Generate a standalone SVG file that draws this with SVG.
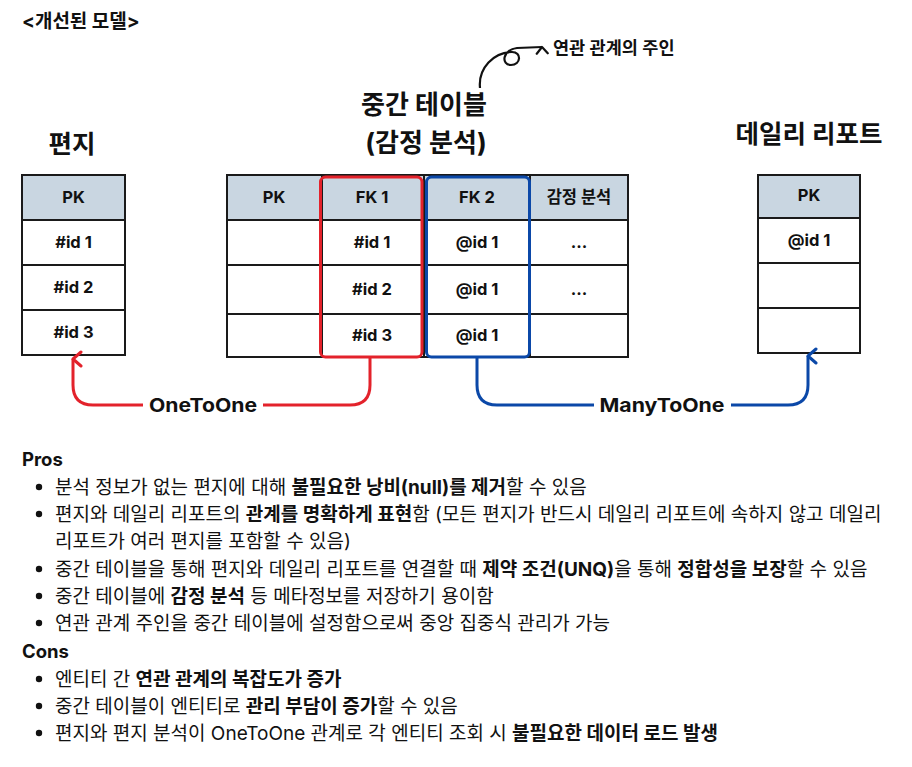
<svg xmlns="http://www.w3.org/2000/svg" width="912" height="767" viewBox="0 0 912 767">
<style>
text{font-family:Inter,"Noto Sans CJK KR",sans-serif;fill:#111}
.t{font-weight:700}
.cell{font-size:16.5px;font-weight:700;text-anchor:middle}
.hd{fill:#c9d6e1;stroke:#1a1a1a;stroke-width:2}
.rw{fill:#fff;stroke:#1a1a1a;stroke-width:2}
.body{font-size:19px}
.b{font-weight:700}
.lbl{font-size:19px;font-weight:700;text-anchor:middle}
</style>
<defs>
<marker id="ar" viewBox="0 0 18 14" refX="9" refY="3" markerWidth="18" markerHeight="14" markerUnits="userSpaceOnUse" orient="auto-start-reverse">
<path d="M2,11 L9,3 L16,11" fill="none" stroke="context-stroke" stroke-width="3" stroke-linecap="round" stroke-linejoin="round"/>
</marker>
<marker id="ar2" viewBox="0 0 14 12" refX="7" refY="3" markerWidth="14" markerHeight="12" markerUnits="userSpaceOnUse" orient="auto">
<path d="M1.5,9.5 L7,3 L12.5,9.5" fill="none" stroke="#111" stroke-width="2.2" stroke-linecap="round" stroke-linejoin="round"/>
</marker>
</defs>
<rect width="912" height="767" fill="#fff"/>
<text x="22" y="28" class="t" font-size="19">&lt;개선된 모델&gt;</text>
<text x="72" y="153" class="t" font-size="25.5" text-anchor="middle">편지</text>
<text x="424" y="114" class="t" font-size="26" text-anchor="middle">중간 테이블</text>
<text x="426" y="152" class="t" font-size="26" text-anchor="middle">(감정 분석)</text>
<text x="809" y="143" class="t" font-size="25.5" text-anchor="middle">데일리 리포트</text>
<text x="553" y="54" font-size="17.5" font-weight="600">연관 관계의 주인</text>

<g id="letter">
<rect class="hd" x="22" y="175" width="103" height="45"/>
<rect class="rw" x="22" y="220" width="103" height="45"/>
<rect class="rw" x="22" y="265" width="103" height="45"/>
<rect class="rw" x="22" y="310" width="103" height="45"/>
<text class="cell" x="73.5" y="203">PK</text>
<text class="cell" x="73.5" y="248">#id 1</text>
<text class="cell" x="73.5" y="293">#id 2</text>
<text class="cell" x="73.5" y="338">#id 3</text>
</g>

<g id="middle">
<rect class="hd" x="227" y="175" width="401" height="45"/>
<rect class="rw" x="227" y="220" width="401" height="45"/>
<rect class="rw" x="227" y="265" width="401" height="49"/>
<rect class="rw" x="227" y="314" width="401" height="43"/>
<line x1="322" y1="175" x2="322" y2="357" stroke="#1a1a1a" stroke-width="2"/>
<line x1="424" y1="175" x2="424" y2="357" stroke="#1a1a1a" stroke-width="2"/>
<line x1="530" y1="175" x2="530" y2="357" stroke="#1a1a1a" stroke-width="2"/>
<text class="cell" x="274" y="203">PK</text>
<text class="cell" x="372" y="203">FK 1</text>
<text class="cell" x="477" y="203">FK 2</text>
<text class="cell" x="579" y="203" font-size="16" font-weight="600">감정 분석</text>
<text class="cell" x="372" y="248">#id 1</text>
<text class="cell" x="372" y="295">#id 2</text>
<text class="cell" x="372" y="341">#id 3</text>
<text class="cell" x="477" y="248">@id 1</text>
<text class="cell" x="477" y="295">@id 1</text>
<text class="cell" x="477" y="341">@id 1</text>
<text class="cell" x="579" y="248">...</text>
<text class="cell" x="579" y="295">...</text>
<rect x="320.5" y="177" width="101.5" height="180" rx="5" fill="none" stroke="#e3222b" stroke-width="3"/>
<rect x="426.5" y="177" width="103" height="180" rx="5" fill="none" stroke="#0b48a8" stroke-width="3"/>
</g>

<g id="report">
<rect class="hd" x="758" y="175" width="102" height="43"/>
<rect class="rw" x="758" y="218" width="102" height="45"/>
<rect class="rw" x="758" y="263" width="102" height="45"/>
<rect class="rw" x="758" y="308" width="102" height="45"/>
<text class="cell" x="809" y="201">PK</text>
<text class="cell" x="809" y="246">@id 1</text>
</g>

<g id="connectors" fill="none" stroke-width="3">
<path d="M370,358 V385 Q370,405 350,405 H263" stroke="#e3222b"/>
<path d="M143,405 H93 Q73,405 73,385 V359" stroke="#e3222b" marker-end="url(#ar)"/>
<path d="M477,358 V385 Q477,405 497,405 H594" stroke="#0b48a8"/>
<path d="M731,405 H788 Q808,405 808,385 V356" stroke="#0b48a8" marker-end="url(#ar)"/>
<path d="M480,88 C478,68 494,52 512,52 C522,52 521,65 511,65 C501,65 502,50 517,48 L542,47" stroke="#111" stroke-width="2.2" marker-end="url(#ar2)"/>
<text class="lbl" x="203" y="412" stroke="none" textLength="108" lengthAdjust="spacingAndGlyphs">OneToOne</text>
<text class="lbl" x="662" y="412" stroke="none" textLength="125" lengthAdjust="spacingAndGlyphs">ManyToOne</text>
</g>

<g id="notes" class="body">
<text x="22" y="466" class="b" font-size="18.5">Pros</text>
<g fill="#111">
<circle cx="39" cy="487" r="3.2"/><circle cx="39" cy="514" r="3.2"/><circle cx="39" cy="569" r="3.2"/><circle cx="39" cy="596" r="3.2"/><circle cx="39" cy="623" r="3.2"/>
<circle cx="39" cy="679" r="3.2"/><circle cx="39" cy="706" r="3.2"/><circle cx="39" cy="733" r="3.2"/>
</g>
<text x="55" y="494">분석 정보가 없는 편지에 대해 <tspan class="b">불필요한 낭비(null)를 제거</tspan>할 수 있음</text>
<text x="55" y="521">편지와 데일리 리포트의 <tspan class="b">관계를 명확하게 표현</tspan>함 (모든 편지가 반드시 데일리 리포트에 속하지 않고 데일리</text>
<text x="55" y="548">리포트가 여러 편지를 포함할 수 있음)</text>
<text x="55" y="576">중간 테이블을 통해 편지와 데일리 리포트를 연결할 때 <tspan class="b">제약 조건(UNQ)</tspan>을 통해 <tspan class="b">정합성을 보장</tspan>할 수 있음</text>
<text x="55" y="603">중간 테이블에 <tspan class="b">감정 분석</tspan> 등 메타정보를 저장하기 용이함</text>
<text x="55" y="630">연관 관계 주인을 중간 테이블에 설정함으로써 중앙 집중식 관리가 가능</text>
<text x="22" y="658" class="b" font-size="18.5">Cons</text>
<text x="55" y="686">엔티티 간 <tspan class="b">연관 관계의 복잡도가 증가</tspan></text>
<text x="55" y="713">중간 테이블이 엔티티로 <tspan class="b">관리 부담이 증가</tspan>할 수 있음</text>
<text x="55" y="740">편지와 편지 분석이 OneToOne 관계로 각 엔티티 조회 시 <tspan class="b">불필요한 데이터 로드 발생</tspan></text>
</g>
</svg>
